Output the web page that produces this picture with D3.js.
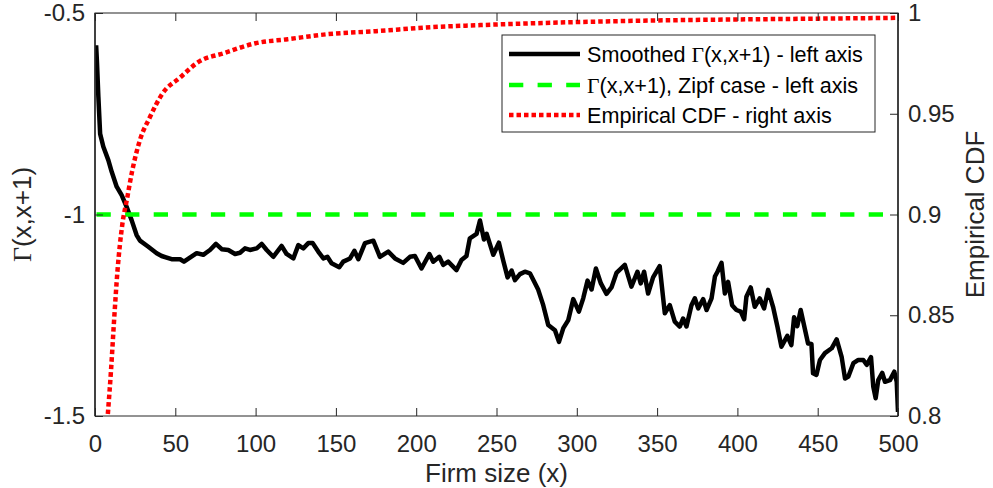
<!DOCTYPE html>
<html>
<head>
<meta charset="utf-8">
<script src="https://cdn.jsdelivr.net/npm/d3@7"></script>
<style>
  body { margin: 0; background: #fff; }
  svg { display: block; font-family: "Liberation Sans", Arial, sans-serif; }
</style>
</head>
<body>
<svg id="chart" width="993" height="488"></svg>
<script>
// smoothed Gamma(x,x+1) as [firm size, value]
const smoothedGamma = [
  [0.7, -0.58], [1.2, -0.62], [2.1, -0.708], [3.2, -0.80], [5.2, -0.832], [8.3, -0.865],
  [10.4, -0.894], [13.5, -0.931], [16.6, -0.952], [19.7, -0.981], [22.8, -1.014],
  [25.9, -1.051], [28.0, -1.065], [33.2, -1.080], [38.4, -1.096], [41.5, -1.103],
  [47.7, -1.111], [53.0, -1.111], [55.4, -1.117], [59.1, -1.107], [63.3, -1.096],
  [67.4, -1.100], [71.6, -1.088], [75.3, -1.073], [78.9, -1.086], [83.0, -1.088],
  [87.2, -1.098], [90.3, -1.095], [93.4, -1.084], [96.5, -1.088], [100.7, -1.084],
  [103.8, -1.073], [106.9, -1.088], [111.0, -1.105], [116.2, -1.078], [119.3, -1.098],
  [123.5, -1.109], [126.6, -1.076], [129.7, -1.084], [132.8, -1.071], [135.5, -1.071],
  [139.0, -1.092], [142.2, -1.109], [144.7, -1.105], [147.3, -1.121], [152.1, -1.131],
  [154.6, -1.117], [158.8, -1.109], [161.5, -1.090], [164.0, -1.111], [168.1, -1.071],
  [173.3, -1.065], [177.4, -1.105], [182.6, -1.092], [186.8, -1.109], [191.9, -1.120],
  [196.1, -1.105], [199.2, -1.103], [203.3, -1.134], [208.2, -1.098], [210.6, -1.117],
  [214.4, -1.105], [216.8, -1.125], [219.9, -1.117], [225.1, -1.138], [228.2, -1.113],
  [231.3, -1.103], [233.4, -1.059], [237.6, -1.048], [239.7, -1.015], [242.2, -1.062],
  [243.9, -1.048], [248.0, -1.100], [251.5, -1.070], [254.1, -1.113], [256.9, -1.156],
  [259.4, -1.139], [261.5, -1.163], [264.6, -1.148], [267.7, -1.142], [270.8, -1.146],
  [273.5, -1.167], [276.0, -1.187], [279.1, -1.225], [282.2, -1.274], [286.4, -1.287],
  [288.9, -1.316], [291.6, -1.282], [294.7, -1.262], [297.8, -1.210], [301.3, -1.241],
  [304.0, -1.208], [306.7, -1.164], [309.2, -1.186], [311.9, -1.134], [315.0, -1.171],
  [318.5, -1.197], [321.6, -1.181], [324.7, -1.145], [329.9, -1.125], [334.0, -1.179],
  [337.8, -1.142], [339.8, -1.171], [341.9, -1.142], [344.4, -1.196], [347.5, -1.156],
  [351.6, -1.128], [354.8, -1.245], [357.9, -1.225], [361.0, -1.266], [364.1, -1.278],
  [366.2, -1.258], [368.3, -1.278], [371.4, -1.225], [373.5, -1.208], [375.6, -1.233],
  [378.7, -1.210], [380.8, -1.237], [383.9, -1.208], [386.0, -1.154], [387.6, -1.142],
  [390.1, -1.120], [392.2, -1.196], [394.2, -1.167], [396.7, -1.225], [399.4, -1.237],
  [402.1, -1.241], [404.2, -1.260], [405.6, -1.204], [408.3, -1.181], [410.8, -1.229],
  [413.9, -1.208], [416.6, -1.233], [419.1, -1.187], [422.2, -1.229], [424.9, -1.278],
  [427.4, -1.328], [431.1, -1.301], [433.6, -1.324], [435.3, -1.255], [437.3, -1.277],
  [439.4, -1.237], [441.9, -1.282], [444.0, -1.320], [446.1, -1.321], [447.1, -1.394],
  [449.2, -1.398], [451.4, -1.361], [454.5, -1.344], [458.7, -1.332], [461.8, -1.310],
  [464.9, -1.353], [467.0, -1.407], [469.1, -1.402], [472.2, -1.369], [475.3, -1.361],
  [478.4, -1.361], [480.5, -1.373], [483.2, -1.354], [484.6, -1.427], [486.1, -1.456],
  [487.7, -1.411], [490.2, -1.393], [491.9, -1.415], [495.0, -1.411], [497.7, -1.390],
  [499.2, -1.415], [500.0, -1.49]
];

// Zipf reference level
const zipfSizes = [0, 500];
const zipfGamma = [-1, -1];

// empirical CDF (right axis)
const cdfSizes = [8, 10, 12, 14, 17, 20, 23, 28, 34, 42, 53, 65, 80, 100, 120, 145, 175, 210, 240, 300, 350, 400, 450, 500];
const cdfValues = [0.801, 0.823, 0.849, 0.872, 0.895, 0.908, 0.921, 0.937, 0.948, 0.960, 0.968, 0.976, 0.980, 0.985, 0.987, 0.9895, 0.991, 0.993, 0.994, 0.9955, 0.9963, 0.9968, 0.9972, 0.9976];

const xTicks = [0, 50, 100, 150, 200, 250, 300, 350, 400, 450, 500];
const leftTicks = [-1.5, -1, -0.5];
const rightTicks = [0.8, 0.85, 0.9, 0.95, 1];

const legendLabels = [
  ["Smoothed ", "Γ", "(x,x+1) - left axis"],
  ["", "Γ", "(x,x+1), Zipf case - left axis"],
  ["Empirical CDF - right axis", "", ""]
];

const axisColor = '#262626';
const svg = d3.select('#chart');
const plotLeft = 95, plotRight = 898, plotTop = 13, plotBottom = 416;

const x = d3.scaleLinear().domain([0, 500]).range([plotLeft, plotRight]);
const yL = d3.scaleLinear().domain([-1.5, -0.5]).range([plotBottom, plotTop]);
const yR = d3.scaleLinear().domain([0.8, 1]).range([plotBottom, plotTop]);

svg.append('defs').append('clipPath').attr('id', 'plotClip')
  .append('rect')
  .attr('x', plotLeft).attr('y', plotTop)
  .attr('width', plotRight - plotLeft).attr('height', plotBottom - plotTop);

const plot = svg.append('g').attr('clip-path', 'url(#plotClip)');

// black smoothed line
plot.append('path')
  .datum(smoothedGamma)
  .attr('d', d3.line().x(d => x(d[0])).y(d => yL(d[1])))
  .attr('fill', 'none')
  .attr('stroke', '#000')
  .attr('stroke-width', 4.5)
  .attr('stroke-linejoin', 'round');

// green dashed Zipf line
plot.append('path')
  .datum(zipfSizes.map((s, i) => [s, zipfGamma[i]]))
  .attr('d', d3.line().x(d => x(d[0])).y(d => yL(d[1])))
  .attr('fill', 'none')
  .attr('stroke', '#00ff00')
  .attr('stroke-width', 4.5)
  .attr('stroke-dasharray', '14.3,14.3')
  .attr('stroke-dashoffset', -1.5);

// red dotted CDF
plot.append('path')
  .datum(cdfSizes.map((s, i) => [s, cdfValues[i]]))
  .attr('d', d3.line().curve(d3.curveMonotoneX).x(d => x(d[0])).y(d => yR(d[1])))
  .attr('fill', 'none')
  .attr('stroke', '#ff0000')
  .attr('stroke-width', 4.5)
  .attr('stroke-dasharray', '4.5,3');

// axes, ticks pointing inward
function styleAxis(g) {
  g.select('.domain').remove();
  g.selectAll('line').attr('stroke', axisColor).attr('stroke-width', 1);
  g.selectAll('text').attr('fill', axisColor).style('font-size', '24px')
    .style('font-family', '"Liberation Sans", Arial, sans-serif');
}

svg.append('g').attr('transform', `translate(0,${plotBottom})`)
  .call(d3.axisBottom(x).tickValues(xTicks).tickSize(-8).tickPadding(19).tickFormat(d => String(d)))
  .call(styleAxis);

svg.append('g').attr('transform', `translate(0,${plotTop})`)
  .call(d3.axisTop(x).tickValues(xTicks).tickSize(-8).tickFormat(''))
  .call(styleAxis);

svg.append('g').attr('transform', `translate(${plotLeft},0)`)
  .call(d3.axisLeft(yL).tickValues(leftTicks).tickSize(-8).tickPadding(10).tickFormat(d => String(d)))
  .call(styleAxis);

svg.append('g').attr('transform', `translate(${plotRight},0)`)
  .call(d3.axisRight(yR).tickValues(rightTicks).tickSize(-8).tickPadding(10).tickFormat(d => String(d)))
  .call(styleAxis);

// box
svg.append('rect')
  .attr('x', plotLeft).attr('y', plotTop)
  .attr('width', plotRight - plotLeft).attr('height', plotBottom - plotTop)
  .attr('fill', 'none').attr('stroke', axisColor).attr('stroke-width', 1);
svg.append('line')
  .attr('x1', plotLeft).attr('x2', plotLeft).attr('y1', plotTop).attr('y2', plotBottom)
  .attr('stroke', axisColor).attr('stroke-width', 1.5);
svg.append('line')
  .attr('x1', plotRight).attr('x2', plotRight).attr('y1', plotTop).attr('y2', plotBottom)
  .attr('stroke', axisColor).attr('stroke-width', 1.5);

// axis labels
svg.append('text')
  .attr('x', (plotLeft + plotRight) / 2).attr('y', 482)
  .attr('text-anchor', 'middle')
  .attr('fill', axisColor)
  .style('font-size', '26px')
  .text('Firm size (x)');

const yLabel = svg.append('text')
  .attr('transform', `translate(31,${(plotTop + plotBottom) / 2}) rotate(-90)`)
  .attr('text-anchor', 'middle')
  .attr('fill', axisColor)
  .style('font-size', '26px');
yLabel.append('tspan').style('font-family', '"Liberation Serif", "Times New Roman", serif').text('Γ');
yLabel.append('tspan').text('(x,x+1)');

svg.append('text')
  .attr('transform', `translate(984,${(plotTop + plotBottom) / 2}) rotate(-90)`)
  .attr('text-anchor', 'middle')
  .attr('fill', axisColor)
  .style('font-size', '26px')
  .text('Empirical CDF');

// legend
const legend = svg.append('g');
legend.append('rect')
  .attr('x', 502).attr('y', 35).attr('width', 373).attr('height', 97)
  .attr('fill', '#fff').attr('stroke', axisColor).attr('stroke-width', 1);

const legendStyles = [
  { color: '#000', dash: null },
  { color: '#00ff00', dash: '14.3,14.3' },
  { color: '#ff0000', dash: '4.5,3' }
];
const rowY = [54, 85, 115];

legendLabels.forEach((parts, i) => {
  legend.append('line')
    .attr('x1', 509).attr('x2', 580)
    .attr('y1', rowY[i]).attr('y2', rowY[i])
    .attr('stroke', legendStyles[i].color)
    .attr('stroke-width', 4.5)
    .attr('stroke-dasharray', legendStyles[i].dash);
  const t = legend.append('text')
    .attr('x', 587).attr('y', rowY[i] + 8)
    .attr('fill', '#000')
    .style('font-size', '21.6px');
  if (parts[0]) t.append('tspan').text(parts[0]);
  if (parts[1]) t.append('tspan').style('font-family', '"Liberation Serif", "Times New Roman", serif').text(parts[1]);
  if (parts[2]) t.append('tspan').text(parts[2]);
});
</script>
</body>
</html>
